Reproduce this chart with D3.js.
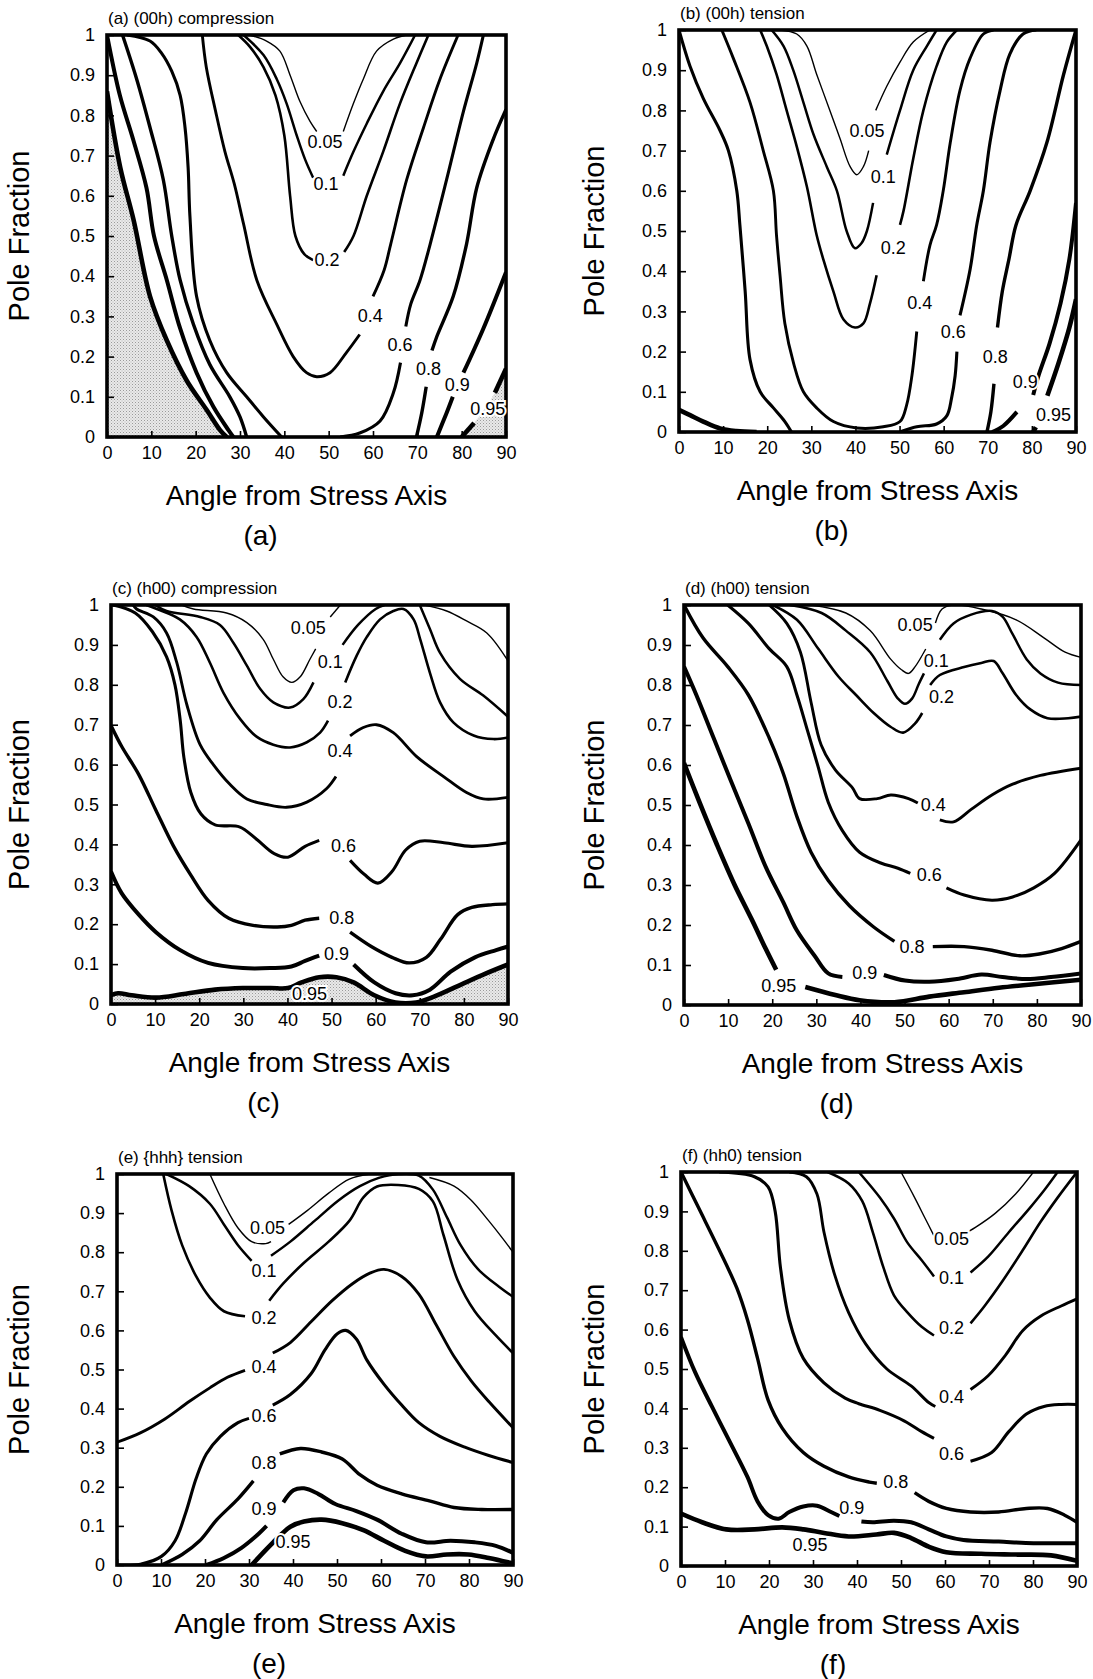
<!DOCTYPE html>
<html>
<head>
<meta charset="utf-8">
<script src="https://cdn.jsdelivr.net/npm/d3@7"></script>
<style>
  body { margin: 0; background: #fff; }
  svg text { font-family: "Liberation Sans", Arial, Helvetica, sans-serif; }
</style>
</head>
<body>
<div id="fig"></div>
<script>
// Pole fraction contour maps, six panels (a)-(f).
// Each contour level is a list of polyline pieces [angle, pole fraction];
// pieces are broken where the printed label sits.

var levels = [0.05, 0.1, 0.2, 0.4, 0.6, 0.8, 0.9, 0.95];
var xTickValues = [0, 10, 20, 30, 40, 50, 60, 70, 80, 90];
var xTickText = ["0", "10", "20", "30", "40", "50", "60", "70", "80", "90"];
var yTickValues = [0, 0.1, 0.2, 0.3, 0.4, 0.5, 0.6, 0.7, 0.8, 0.9, 1];
var yTickText = ["0", "0.1", "0.2", "0.3", "0.4", "0.5", "0.6", "0.7", "0.8", "0.9", "1"];
var panelIds = ["a", "b", "c", "d", "e", "f"];
var panelTitles = ["(a) (00h) compression", "(b) (00h) tension", "(c) (h00) compression",
                   "(d) (h00) tension", "(e) {hhh} tension", "(f) (hh0) tension"];
var xTitle = "Angle from Stress Axis";
var yTitle = "Pole Fraction";

// (a) (00h) compression
var contoursA = [
  {level: 0.05, segs: [
    [[32.1,1.0],[36,0.985],[39,0.96],[41.3,0.9],[43.5,0.835],[45.8,0.785],[47.3,0.76]],
    [[53.3,0.76],[55.6,0.83],[57.8,0.89],[60.8,0.96],[64.6,0.99],[67.6,1.0]]]},
  {level: 0.1, segs: [
    [[30.8,1.0],[35.3,0.95],[38.3,0.89],[40.5,0.83],[42.8,0.75],[44.7,0.69],[46.5,0.645]],
    [[53.3,0.65],[55.6,0.71],[58.6,0.78],[62.3,0.86],[66.1,0.93],[69.5,1.0]]]},
  {level: 0.2, segs: [
    [[29.6,1.0],[32.3,0.97],[35.3,0.92],[38,0.85],[40,0.75],[41.3,0.6],[42.5,0.5],[44.5,0.455],[46.5,0.44]],
    [[53.5,0.46],[55.6,0.5],[58.6,0.6],[62.3,0.71],[66.1,0.83],[69.8,0.93],[72.5,1.0]]]},
  {level: 0.4, segs: [
    [[21.5,1.0],[22.4,0.92],[24.5,0.81],[26.6,0.71],[28.7,0.63],[30.8,0.53],[33.8,0.39],[38.3,0.28],[42,0.2],[45,0.16],[47.3,0.15],[50.3,0.16],[54,0.21],[57,0.255]],
    [[60,0.35],[62.5,0.415],[64,0.48],[67.6,0.64],[71.4,0.77],[75.1,0.89],[79.2,1.0]]]},
  {level: 0.6, segs: [
    [[4.5,1.0],[9.7,0.985],[12.3,0.955],[14.6,0.91],[16.5,0.85],[17.6,0.77],[18.3,0.67],[18.7,0.55],[20.2,0.35],[23.2,0.24],[27,0.16],[31.5,0.1],[35.3,0.05],[39.4,0]],
    [[52.6,0],[57,0.01],[61.6,0.04],[64.6,0.11],[66.2,0.185]],
    [[67.4,0.275],[68.5,0.33],[70.6,0.39],[72.9,0.48],[76.6,0.64],[80.4,0.81],[83.4,0.93],[84.9,1.0]]]},
  {level: 0.8, segs: [
    [[3.5,1.0],[6.7,0.89],[9.7,0.77],[12.7,0.64],[14.6,0.5],[16.5,0.39],[19.5,0.28],[23.2,0.18],[27.7,0.1],[30,0.05],[31.5,0]],
    [[69.8,0],[71,0.06],[72,0.125]],
    [[73.3,0.215],[74.4,0.25],[78.1,0.35],[81.1,0.48],[83.4,0.62],[87.1,0.74],[90,0.815]]]},
  {level: 0.9, segs: [
    [[0,1.0],[2.9,0.85],[5.9,0.74],[8.9,0.62],[10.6,0.5],[13.5,0.39],[16.5,0.27],[20.2,0.16],[24,0.075],[27.4,0.017],[28.5,0]],
    [[74.4,0],[76.6,0.06],[78,0.1]],
    [[80.4,0.16],[84.9,0.27],[90,0.41]]]},
  {level: 0.95, segs: [
    [[0,0.86],[3,0.67],[6,0.54],[9.7,0.35],[13.5,0.24],[18,0.14],[22.5,0.067],[25.5,0.017],[27,0]],
    [[80,0],[82.8,0.035]],
    [[87.5,0.11],[90,0.17]]]}
];
var labelsA = [[0.05,49.2,0.735],[0.1,49.4,0.63],[0.2,49.6,0.44],[0.4,59.4,0.3],
               [0.6,66.1,0.23],[0.8,72.5,0.17],[0.9,79,0.13],[0.95,85.9,0.07]];
var shadeA = [[0.95,[0]],[0.95,[1,2]]];

// (b) (00h) tension
var contoursB = [
  {level: 0.05, segs: [
    [[22.9,1.0],[26.7,0.99],[29,0.96],[31.2,0.89],[34.2,0.8],[36.5,0.73],[38.8,0.66],[40.3,0.64],[41.8,0.66],[43,0.7]],
    [[44.6,0.8],[47.1,0.86],[50.1,0.92],[53.1,0.97],[56.9,1.0]]]},
  {level: 0.1, segs: [
    [[21,1.0],[23.7,0.96],[25.9,0.9],[28.2,0.82],[30.5,0.74],[33.5,0.66],[35.8,0.6],[38,0.5],[39.9,0.457],[41.4,0.47],[42.6,0.5],[44,0.57]],
    [[47.1,0.69],[50.1,0.8],[53.1,0.9],[56.2,0.96],[58.4,1.0]]]},
  {level: 0.2, segs: [
    [[18.4,1.0],[19.9,0.96],[22.1,0.89],[24.4,0.8],[26.7,0.71],[29,0.61],[31.2,0.49],[32.7,0.43],[35,0.35],[37.3,0.28],[39.9,0.26],[41.8,0.27],[43.3,0.32],[44.8,0.39]],
    [[50.1,0.515],[50.9,0.55],[53.1,0.68],[55.4,0.8],[58.4,0.91],[60.7,0.97],[63,1.0]]]},
  {level: 0.4, segs: [
    [[9.7,1.0],[12.3,0.93],[16.1,0.82],[19.1,0.7],[21.4,0.6],[22.1,0.49],[22.9,0.39],[24,0.27],[26,0.17],[28.2,0.1],[31.2,0.06],[35,0.026],[40.3,0.01],[46.3,0.013],[50.1,0.026],[51.6,0.067],[52.8,0.14],[53.9,0.25]],
    [[55.4,0.375],[56.9,0.465],[58.4,0.515],[59.9,0.6],[61.5,0.72],[63.7,0.85],[66,0.93],[69,0.99],[71.3,1.0]]]},
  {level: 0.6, segs: [
    [[0,1.0],[2.5,0.91],[5.5,0.83],[9.3,0.75],[11.2,0.7],[13.1,0.6],[13.8,0.515],[15,0.35],[16.1,0.18],[18.4,0.1],[21.4,0.06],[24,0.026],[25.5,0]],
    [[50,0],[53.9,0.013],[58.4,0.02],[60.7,0.04],[61.8,0.085],[62.6,0.14],[63,0.2]],
    [[63.7,0.29],[66,0.405],[67.5,0.515],[69,0.6],[70.5,0.72],[72.8,0.85],[75,0.94],[78,0.99],[81,1.0]]]},
  {level: 0.8, segs: [
    [[69.8,0],[70.7,0.05],[71.4,0.12]],
    [[72.2,0.26],[73.3,0.35],[74.8,0.43],[76.4,0.515],[79.6,0.6],[83.4,0.72],[87.2,0.89],[90,1.0]]]},
  {level: 0.9, segs: [
    [[71,0],[73.5,0.015],[76.6,0.05]],
    [[80.3,0.092],[81.5,0.14],[84,0.22],[86.5,0.32],[88.5,0.43],[90,0.57]]]},
  {level: 0.95, segs: [
    [[0,0.055],[2.5,0.042],[5.5,0.026],[9.3,0.009],[13,0.0025],[17.6,0]],
    [[80.3,0],[80.9,0.012]],
    [[83.5,0.09],[86,0.17],[88.5,0.26],[90,0.33]]]}
];
var labelsB = [[0.05,42.6,0.75],[0.1,46.3,0.635],[0.2,48.6,0.457],[0.4,54.6,0.32],
               [0.6,62.2,0.25],[0.8,71.7,0.187],[0.9,78.5,0.125],[0.95,84.9,0.042]];

// (c) (h00) compression
var contoursC = [
  {level: 0.05, segs: [
    [[16,1.0],[18.7,0.99],[26.2,0.98],[30.8,0.956],[34.5,0.914],[36.8,0.864],[39,0.82],[41,0.806],[42.9,0.82],[45.1,0.864],[46.4,0.89]],
    [[49.7,0.97],[52,1.0]],
    [[71,1.0],[76.1,0.985],[80.6,0.96],[85.2,0.93],[90,0.86]]]},
  {level: 0.1, segs: [
    [[10,1.0],[12.6,0.985],[20.2,0.97],[24.7,0.95],[27.7,0.906],[30.8,0.848],[33.8,0.79],[36.8,0.756],[40.6,0.743],[43.6,0.764],[45.9,0.806]],
    [[52.5,0.9],[56,0.95],[60,0.99],[62,1.0]],
    [[70,1.0],[72.3,0.94],[74.6,0.88],[79.1,0.815],[84.4,0.773],[90,0.72]]]},
  {level: 0.2, segs: [
    [[8,1.0],[10.4,0.99],[15.6,0.964],[19.4,0.92],[22.4,0.856],[25.5,0.78],[29.3,0.714],[33,0.67],[36.8,0.65],[40.6,0.643],[44.4,0.656],[47.4,0.68],[49.2,0.71]],
    [[53.1,0.806],[55.7,0.873],[58,0.92],[61,0.964],[64,0.985],[66.3,0.99],[68.6,0.964],[70.1,0.914],[72.3,0.83],[74.6,0.756],[77.6,0.706],[82.2,0.673],[86.7,0.664],[90,0.668]]]},
  {level: 0.4, segs: [
    [[5,1.0],[5.8,0.99],[9.6,0.97],[12.6,0.93],[14.9,0.856],[17.2,0.75],[20.2,0.65],[23.2,0.6],[27,0.55],[30.8,0.514],[35.3,0.5],[39.8,0.493],[44.4,0.506],[48.9,0.54],[51,0.57]],
    [[54.2,0.672],[57.2,0.693],[60.2,0.7],[64,0.68],[69.3,0.62],[75.4,0.57],[80.6,0.53],[84.4,0.514],[90,0.518]]]},
  {level: 0.6, segs: [
    [[0.5,1.0],[5.5,0.98],[9.4,0.933],[12.6,0.87],[14.5,0.8],[15.7,0.71],[16.5,0.62],[18.1,0.53],[20.4,0.476],[23.6,0.449],[29.1,0.444],[33,0.413],[37,0.377],[40.1,0.368],[44,0.395],[47.2,0.41]],
    [[54.2,0.36],[57.4,0.325],[60.5,0.303],[63.7,0.332],[66.8,0.386],[70,0.408],[75.5,0.404],[81.8,0.395],[90,0.404]]]},
  {level: 0.8, segs: [
    [[0,0.698],[2.4,0.646],[6.3,0.575],[10.2,0.485],[14.2,0.395],[18.1,0.323],[22,0.26],[26.7,0.215],[32.2,0.197],[37.7,0.193],[40.9,0.197],[44,0.21],[47.2,0.215]],
    [[54.2,0.18],[59,0.144],[63.7,0.117],[67.6,0.103],[71.5,0.117],[74.7,0.162],[78.6,0.224],[81.8,0.242],[86.5,0.249],[90,0.251]]]},
  {level: 0.9, segs: [
    [[0,0.332],[2.4,0.278],[6.3,0.224],[10.2,0.18],[15.7,0.135],[22,0.103],[29.9,0.09],[36.2,0.09],[40.9,0.094],[44,0.108],[47.2,0.121]],
    [[55,0.099],[59.7,0.054],[64.5,0.027],[68.4,0.022],[72.3,0.036],[77,0.081],[82.5,0.117],[87.3,0.135],[90,0.144]]]},
  {level: 0.95, segs: [
    [[0,0.022],[1.6,0.027],[4.7,0.022],[10.2,0.016],[16.5,0.025],[23.6,0.036],[29.9,0.04],[36.2,0.04],[40.1,0.04],[43.2,0.054],[47.2,0.067],[51.1,0.067],[55,0.054],[59.7,0.022],[64.5,0.004],[69.2,0.004],[73.1,0.018],[78.6,0.045],[84.9,0.076],[90,0.099]]]}
];
var labelsC = [[0.05,44.7,0.943],[0.1,49.7,0.856],[0.2,51.9,0.756],[0.4,51.9,0.635],
               [0.6,52.7,0.395],[0.8,52.3,0.215],[0.9,51.1,0.126],[0.95,45,0.024]];
var shadeC = [[0.95,[0]]];

// (d) (h00) tension
var contoursD = [
  {level: 0.05, segs: [
    [[28.8,1.0],[36.7,0.98],[42.2,0.936],[46.9,0.864],[49.3,0.838],[50.9,0.829],[52.4,0.846],[54.8,0.89]],
    [[57,0.955],[58.5,0.99],[61,1.0],[67.4,0.99],[75.3,0.963],[81.6,0.918],[86.4,0.882],[90,0.869]]]},
  {level: 0.1, segs: [
    [[24,1.0],[31.2,0.98],[36.7,0.936],[42.2,0.882],[46.1,0.81],[48.5,0.766],[50.1,0.753],[51.7,0.766],[53.2,0.802],[54.4,0.829]],
    [[58,0.913],[61.1,0.954],[65.1,0.976],[69.8,0.985],[72.2,0.971],[74.5,0.927],[77.7,0.864],[80.8,0.829],[84.8,0.806],[90,0.8]]]},
  {level: 0.2, segs: [
    [[20.1,1.0],[25.6,0.963],[30.4,0.891],[35.1,0.82],[39,0.775],[43,0.73],[46.9,0.695],[49.7,0.681],[52.4,0.704],[54,0.73]],
    [[55.8,0.8],[58,0.825],[63.5,0.845],[67.4,0.855],[70.2,0.86],[72.2,0.83],[75.3,0.775],[78.5,0.739],[82.4,0.717],[87.1,0.717],[90,0.721]]]},
  {level: 0.4, segs: [
    [[19.3,1.0],[23.3,0.954],[26.4,0.882],[28.8,0.757],[31.1,0.65],[34.3,0.588],[38.2,0.543],[39.8,0.516],[43.8,0.516],[46.9,0.525],[50.9,0.516],[53,0.505]],
    [[58,0.463],[61.1,0.458],[65.1,0.489],[69.8,0.525],[74.5,0.552],[80.8,0.574],[90,0.592]]]},
  {level: 0.6, segs: [
    [[9.9,1.0],[14.6,0.954],[19.3,0.891],[23.3,0.846],[25.6,0.775],[28,0.686],[30.4,0.596],[32.7,0.507],[35.9,0.436],[39.8,0.382],[44.6,0.355],[48.5,0.342],[51.3,0.329]],
    [[59.5,0.293],[63.5,0.275],[69.8,0.262],[74.5,0.27],[79.3,0.293],[84,0.329],[90,0.413]]]},
  {level: 0.8, segs: [
    [[0,1.0],[4.3,0.918],[9.9,0.846],[14.6,0.775],[19.3,0.668],[22.5,0.579],[25.6,0.471],[28.8,0.382],[32.7,0.311],[37.5,0.248],[43,0.195],[47.7,0.159]],
    [[56.4,0.146],[63.5,0.146],[69.8,0.137],[76.1,0.123],[80.8,0.128],[85.6,0.141],[90,0.159]]]},
  {level: 0.9, segs: [
    [[0,0.846],[2.8,0.775],[6.7,0.668],[10.6,0.561],[14.6,0.454],[18.5,0.346],[22.5,0.257],[25.6,0.186],[29.6,0.123],[32.7,0.079],[35.9,0.07]],
    [[45.3,0.075],[50.1,0.061],[55.6,0.058],[61.9,0.065],[67.4,0.076],[72.2,0.07],[77.7,0.065],[83.2,0.07],[90,0.079]]]},
  {level: 0.95, segs: [
    [[0,0.605],[3.5,0.507],[7.5,0.4],[11.4,0.302],[15.4,0.213],[18.5,0.141],[20.9,0.088]],
    [[27.5,0.045],[34.3,0.025],[39.8,0.012],[47.7,0.007],[55.6,0.021],[63.5,0.032],[71.4,0.043],[79.3,0.052],[90,0.063]]]}
];
var labelsD = [[0.05,52.4,0.949],[0.1,57.2,0.86],[0.2,58.4,0.77],[0.4,56.5,0.5],
               [0.6,55.6,0.324],[0.8,51.7,0.146],[0.9,41,0.079],[0.95,21.5,0.047]];

// (e) {hhh} tension
var contoursE = [
  {level: 0.05, segs: [
    [[21.1,1.0],[24.3,0.924],[27.5,0.862],[30.6,0.827],[33.8,0.822],[35,0.827]],
    [[39,0.871],[43.3,0.907],[48.1,0.951],[52.8,0.987],[57.6,1.0]],
    [[71,0.991],[76.6,0.969],[80.5,0.933],[84.5,0.88],[87.6,0.836],[90,0.8]]]},
  {level: 0.1, segs: [
    [[11.2,1.0],[16.4,0.969],[21.1,0.924],[24.3,0.871],[27.5,0.818],[30.6,0.778]],
    [[35,0.791],[39.4,0.827],[44.9,0.88],[50.4,0.933],[55.2,0.969],[59.5,0.99],[64,1.0],[68.6,0.996],[71.8,0.96],[75,0.889],[78.1,0.818],[82.1,0.756],[86.9,0.711],[90,0.686]]]},
  {level: 0.2, segs: [
    [[10.5,1.0],[12.4,0.907],[14.8,0.818],[18,0.738],[21.1,0.684],[24.3,0.649],[29.1,0.636]],
    [[34.6,0.676],[37.8,0.72],[42.5,0.773],[48.1,0.827],[52.8,0.88],[56,0.94],[59.1,0.968],[63.9,0.972],[68.6,0.962],[71.8,0.93],[74.2,0.844],[77.4,0.729],[81.3,0.649],[86.1,0.587],[90,0.542]]]},
  {level: 0.4, segs: [
    [[0,0.314],[5.3,0.338],[10.8,0.373],[16.4,0.418],[21.1,0.453],[25.1,0.48],[29.1,0.498]],
    [[35.4,0.542],[39.4,0.569],[44.1,0.622],[48.9,0.676],[53.6,0.72],[57.6,0.747],[60.7,0.756],[64.7,0.738],[68.6,0.693],[72.6,0.613],[76.6,0.533],[80.5,0.471],[84.5,0.418],[90,0.351]]]},
  {level: 0.6, segs: [
    [[0,0],[5.3,0.002],[10.1,0.022],[13.2,0.062],[15.6,0.133],[18,0.222],[20.3,0.284],[23.5,0.329],[27.5,0.364],[30,0.375]],
    [[35.4,0.409],[39.4,0.436],[44.1,0.489],[47.3,0.551],[50,0.591],[52,0.6],[54.4,0.578],[56.8,0.524],[60.7,0.462],[64.7,0.409],[68.6,0.364],[73.4,0.329],[78.9,0.302],[84.5,0.28],[90,0.262]]]},
  {level: 0.8, segs: [
    [[10.1,0],[14.8,0.027],[18.8,0.062],[22.7,0.116],[27.5,0.169],[31,0.215]],
    [[37,0.284],[41.7,0.298],[46.5,0.289],[51.2,0.271],[55.2,0.231],[59.1,0.204],[64.7,0.182],[71,0.164],[76.6,0.147],[82.9,0.142],[90,0.142]]]},
  {level: 0.9, segs: [
    [[20.3,0],[24.3,0.018],[28.3,0.044],[32.2,0.08],[34,0.1]],
    [[37.8,0.16],[40.1,0.191],[42.5,0.196],[45.7,0.182],[49.6,0.156],[54.4,0.138],[59.1,0.116],[64.7,0.08],[70.2,0.058],[75.8,0.062],[81.3,0.058],[86.1,0.049],[90,0.031]]]},
  {level: 0.95, segs: [
    [[30.6,0],[33.5,0.035],[35.5,0.058],[37.5,0.08],[39.4,0.098],[42.5,0.111],[46.5,0.116],[51.2,0.107],[56,0.089],[60.7,0.062],[65.5,0.036],[70.2,0.022],[75,0.027],[79.8,0.027],[84.5,0.018],[90,0.004]]]}
];
var labelsE = [[0.05,34.2,0.862],[0.1,33.4,0.751],[0.2,33.4,0.631],[0.4,33.4,0.507],
               [0.6,33.4,0.38],[0.8,33.4,0.26],[0.9,33.4,0.142],[0.95,40,0.058]];

// (f) (hh0) tension
var contoursF = [
  {level: 0.05, segs: [
    [[50,1.0],[53.1,0.935],[55.5,0.882],[57.5,0.838]],
    [[65.5,0.85],[67,0.86],[71.4,0.895],[76.1,0.945],[80.1,1.0]]]},
  {level: 0.1, segs: [
    [[40.4,1.0],[45.2,0.935],[48.4,0.882],[51.5,0.82],[54.7,0.776],[57.5,0.735]],
    [[65.8,0.745],[69.8,0.785],[74.5,0.847],[79.3,0.909],[82.5,0.953],[85.6,1.0]]]},
  {level: 0.2, segs: [
    [[33.3,1.0],[38.1,0.971],[41.2,0.926],[43.6,0.847],[46,0.758],[48.4,0.687],[51.5,0.643],[54.7,0.607],[57.5,0.585]],
    [[65.8,0.616],[69,0.66],[73,0.722],[77.7,0.802],[81.7,0.873],[85.6,0.935],[90,1.0]]]},
  {level: 0.4, segs: [
    [[24.6,1.0],[28.5,0.988],[30.9,0.944],[32.5,0.847],[34.9,0.74],[38.1,0.643],[42,0.563],[46.8,0.5],[52.3,0.457],[56.3,0.415],[57.8,0.405]],
    [[65.8,0.448],[69.8,0.483],[73.8,0.536],[77.7,0.598],[81.7,0.634],[86.4,0.66],[90,0.678]]]},
  {level: 0.6, segs: [
    [[8.7,1.0],[16.7,0.988],[19.8,0.962],[21.4,0.9],[22.6,0.758],[24.6,0.625],[27.8,0.527],[32.5,0.465],[37.3,0.426],[40.4,0.412],[45.2,0.395],[50.8,0.368],[54.7,0.341],[57.5,0.324]],
    [[65.8,0.266],[70.6,0.288],[74.5,0.341],[78.5,0.386],[82.5,0.405],[86.4,0.41],[90,0.41]]]},
  {level: 0.8, segs: [
    [[0,1.0],[4,0.909],[8.7,0.802],[12.7,0.705],[15.1,0.625],[17.4,0.527],[19.8,0.421],[23,0.35],[27.8,0.288],[32.5,0.253],[38.1,0.226],[42.8,0.213],[44.5,0.21]],
    [[53.1,0.186],[56.3,0.164],[60.3,0.146],[65.8,0.137],[72.2,0.137],[78.5,0.146],[83.3,0.146],[87.2,0.129],[90,0.111]]]},
  {level: 0.9, segs: [
    [[0,0.581],[3.2,0.492],[7.1,0.403],[11.1,0.315],[15.1,0.226],[17.4,0.164],[19.8,0.129],[22.2,0.12],[24.6,0.137],[27.8,0.151],[30.9,0.153],[34.1,0.137],[36,0.127]],
    [[41,0.113],[43.6,0.111],[48.4,0.115],[52.3,0.111],[56.3,0.093],[60.3,0.075],[64.2,0.066],[72.2,0.062],[80.1,0.058],[90,0.058]]]},
  {level: 0.95, segs: [
    [[0,0.133],[4.8,0.111],[10.3,0.093],[16.7,0.093],[23,0.098],[27.8,0.093],[32.5,0.084],[38.1,0.075],[44.4,0.08],[48.4,0.084],[52.3,0.071],[56.3,0.049],[60.3,0.035],[68.2,0.031],[76.1,0.029],[84.1,0.027],[90,0.013]]]}
];
var labelsF = [[0.05,61.5,0.83],[0.1,61.5,0.731],[0.2,61.5,0.603],[0.4,61.5,0.43],
               [0.6,61.5,0.284],[0.8,48.8,0.213],[0.9,38.8,0.146],[0.95,29.3,0.053]];

// ---- layout (pixels) ----
var width = 1093, height = 1679;
var boxes = {
  a: {x0: 107, x1: 506, top: 35, bottom: 437, yLab: 19},
  b: {x0: 679, x1: 1076, top: 30, bottom: 432, yLab: 594},
  c: {x0: 111, x1: 508, top: 605, bottom: 1004, yLab: 19},
  d: {x0: 684, x1: 1081, top: 605, bottom: 1005, yLab: 594},
  e: {x0: 117, x1: 513, top: 1174, bottom: 1565, yLab: 19},
  f: {x0: 681, x1: 1077, top: 1172, bottom: 1566, yLab: 594}
};
var strokeFor = {0.05: 1.4, 0.1: 2.5, 0.2: 2.6, 0.4: 2.9, 0.6: 3.1, 0.8: 3.4, 0.9: 4.0, 0.95: 4.6};

var panelData = {
  a: {contours: contoursA, labels: labelsA, shade: shadeA},
  b: {contours: contoursB, labels: labelsB, shade: []},
  c: {contours: contoursC, labels: labelsC, shade: shadeC},
  d: {contours: contoursD, labels: labelsD, shade: []},
  e: {contours: contoursE, labels: labelsE, shade: []},
  f: {contours: contoursF, labels: labelsF, shade: []}
};

var svg = d3.select("#fig").append("svg")
  .attr("width", width)
  .attr("height", height)
  .style("display", "block");

svg.append("rect").attr("width", width).attr("height", height).attr("fill", "#fff");

// stippled fill for the shaded regions
var defs = svg.append("defs");
var pat = defs.append("pattern")
  .attr("id", "stipple")
  .attr("width", 3).attr("height", 3)
  .attr("patternUnits", "userSpaceOnUse");
pat.append("rect").attr("width", 3).attr("height", 3).attr("fill", "#e9e9e9");
pat.append("rect").attr("x", 0).attr("y", 0).attr("width", 1).attr("height", 1).attr("fill", "#9a9a9a");
pat.append("rect").attr("x", 1.5).attr("y", 1.5).attr("width", 1).attr("height", 1).attr("fill", "#b8b8b8");

panelIds.forEach(function(id, i) {
  var box = boxes[id];
  var pd = panelData[id];

  var x = d3.scaleLinear().domain([0, 90]).range([box.x0, box.x1]);
  var y = d3.scaleLinear().domain([0, 1]).range([box.bottom, box.top]);

  var g = svg.append("g").attr("class", "panel-" + id);

  defs.append("clipPath").attr("id", "clip-" + id)
    .append("rect")
    .attr("x", box.x0).attr("y", box.top)
    .attr("width", box.x1 - box.x0).attr("height", box.bottom - box.top);

  var plot = g.append("g").attr("clip-path", "url(#clip-" + id + ")");

  var line = d3.line()
    .x(function(d) { return x(d[0]); })
    .y(function(d) { return y(d[1]); })
    .curve(d3.curveCatmullRom.alpha(0.5));

  var area = d3.area()
    .x(function(d) { return x(d[0]); })
    .y0(y(0))
    .y1(function(d) { return y(d[1]); })
    .curve(d3.curveCatmullRom.alpha(0.5));

  // shaded regions under the 0.95 contour
  pd.shade.forEach(function(s) {
    var c = pd.contours.filter(function(k) { return k.level === s[0]; })[0];
    var pts = [];
    s[1].forEach(function(si) { pts = pts.concat(c.segs[si]); });
    plot.append("path")
      .attr("d", area(pts))
      .attr("fill", "url(#stipple)");
  });

  // contour lines
  pd.contours.forEach(function(c) {
    plot.selectAll(null)
      .data(c.segs)
      .enter().append("path")
      .attr("d", line)
      .attr("fill", "none")
      .attr("stroke", "#000")
      .attr("stroke-width", strokeFor[c.level])
      .attr("stroke-linejoin", "round")
      .attr("stroke-linecap", "butt");
  });

  // axes, ticks pointing inward
  var xAxis = d3.axisBottom(x)
    .tickValues(xTickValues)
    .tickFormat(function(d, k) { return xTickText[k]; })
    .tickSize(-6)
    .tickPadding(9);
  var yAxis = d3.axisLeft(y)
    .tickValues(yTickValues)
    .tickFormat(function(d, k) { return yTickText[k]; })
    .tickSize(-7)
    .tickPadding(12);

  var gx = g.append("g").attr("transform", "translate(0," + box.bottom + ")").call(xAxis);
  var gy = g.append("g").attr("transform", "translate(" + box.x0 + ",0)").call(yAxis);
  [gx, gy].forEach(function(ax) {
    ax.select(".domain").remove();
    ax.selectAll(".tick line").attr("stroke", "#000").attr("stroke-width", 1.6);
    ax.selectAll(".tick text")
      .attr("fill", "#000")
      .style("font-size", "18px")
      .style("font-family", "'Liberation Sans', Arial, Helvetica, sans-serif");
  });

  // frame
  g.append("rect")
    .attr("x", box.x0).attr("y", box.top)
    .attr("width", box.x1 - box.x0).attr("height", box.bottom - box.top)
    .attr("fill", "none")
    .attr("stroke", "#000")
    .attr("stroke-width", 3.6);

  // contour labels
  g.selectAll("text.clab")
    .data(pd.labels)
    .enter().append("text")
    .attr("class", "clab")
    .attr("x", function(d) { return x(d[1]); })
    .attr("y", function(d) { return y(d[2]); })
    .attr("text-anchor", "middle")
    .attr("dominant-baseline", "central")
    .style("font-size", "18px")
    .style("paint-order", "stroke")
    .attr("stroke", "#fff")
    .attr("stroke-width", 4)
    .attr("fill", "#000")
    .text(function(d) { return String(d[0]); });

  // panel title above frame
  g.append("text")
    .attr("x", box.x0 + 1)
    .attr("y", box.top - 11)
    .attr("fill", "#000")
    .style("font-size", "17px")
    .text(panelTitles[i]);

  var cx = (box.x0 + box.x1) / 2;
  g.append("text")
    .attr("x", cx)
    .attr("y", box.bottom + 58)
    .attr("text-anchor", "middle")
    .attr("dominant-baseline", "central")
    .attr("fill", "#000")
    .style("font-size", "28px")
    .text(xTitle);

  g.append("text")
    .attr("x", cx - 46)
    .attr("y", box.bottom + 98)
    .attr("text-anchor", "middle")
    .attr("dominant-baseline", "central")
    .attr("fill", "#000")
    .style("font-size", "28px")
    .text("(" + id + ")");

  g.append("text")
    .attr("transform", "translate(" + box.yLab + "," + ((box.top + box.bottom) / 2) + ") rotate(-90)")
    .attr("text-anchor", "middle")
    .attr("dominant-baseline", "central")
    .attr("fill", "#000")
    .style("font-size", "29px")
    .text(yTitle);
});
</script>
</body>
</html>
